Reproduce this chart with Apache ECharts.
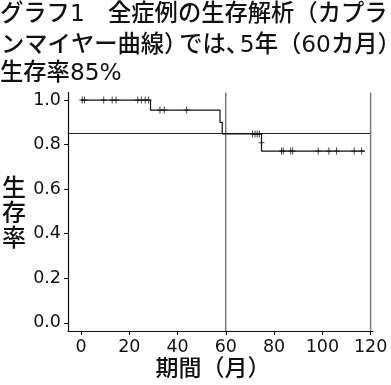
<!DOCTYPE html>
<html><head><meta charset="utf-8">
<script src="https://cdn.jsdelivr.net/npm/echarts@6/dist/echarts.min.js"></script>
<style>html,body{margin:0;padding:0;background:#fff}#c{width:391px;height:385px}</style>
</head><body><div id="c"></div>
<script>
// Kaplan-Meier step points
const stepTimes = [0, 28.8, 57.6, 58.5, 74.8, 74.8, 117.6];
const stepSurv  = [1.0, 0.955, 0.9, 0.848, 0.808, 0.771, 0.771];
// censored observations
const censorTimes = [0.5, 1.4, 9.4, 12.9, 14.5, 23.5, 25.0, 26.6, 28.0, 32.7, 34.5, 43.8, 71.1, 72.1, 73.0, 73.9, 74.8, 83.1, 83.8, 86.9, 87.7, 98.3, 102.7, 105.9, 113.2, 116.3];
const censorSurv  = [1.0, 1.0, 1.0, 1.0, 1.0, 1.0, 1.0, 1.0, 1.0, 0.955, 0.955, 0.955, 0.848, 0.848, 0.848, 0.848, 0.808, 0.771, 0.771, 0.771, 0.771, 0.771, 0.771, 0.771, 0.771, 0.771];
// reference lines
const refMonth = [60, 120];
const refSurv = 0.85;
// tick labels
const xTicks = [0, 20, 40, 60, 80, 100, 120];
const yTicks = [0, 0.2, 0.4, 0.6, 0.8, 1.0];
const titleLine1 = 'グラフ1　全症例の生存解析（カプラ';
const titleLine2Parts = ['ンマイヤー曲線）', 'では、', '5年（60カ月）'];
const titleLine3 = '生存率85%';
const xName = '期間（月）';
const yName = '生存率';

const X_MIN = -5.4, X_MAX = 121, Y_MIN = -0.037, Y_MAX = 1.034;
const TF = '"DejaVu Sans", "Noto Sans CJK JP", sans-serif';
const LAT = '"DejaVu Sans", sans-serif';
const S = 23.3; // title font size
const W = '500 ';

const chart = echarts.init(document.getElementById('c'), null, {renderer: 'canvas'});
const series = [
  {
    type: 'line', step: 'end', symbol: 'none', silent: true,
    lineStyle: {color: '#111', width: 1.2},
    data: stepTimes.map((t, i) => [t, stepSurv[i]]), z: 3
  },
  {
    type: 'scatter', silent: true,
    symbol: 'path://M2.5,0h1v3h2.5v1h-2.5v3h-1v-3h-2.5v-1h2.5z',
    symbolSize: [6, 7],
    itemStyle: {color: '#111'},
    data: censorTimes.map((t, i) => [t, censorSurv[i]]), z: 4
  },
  {
    type: 'line', symbol: 'none', silent: true,
    lineStyle: {color: '#222', width: 1},
    data: [[X_MIN, refSurv], [refMonth[1], refSurv]], z: 2
  },
  {
    type: 'line', symbol: 'none', silent: true,
    lineStyle: {color: '#333', width: 1},
    data: [[refMonth[0], Y_MIN], [refMonth[0], Y_MAX]], z: 2
  },
  {
    type: 'line', symbol: 'none', silent: true,
    lineStyle: {color: '#777', width: 1.5},
    data: [[refMonth[1], Y_MIN], [refMonth[1], Y_MAX]], z: 2
  }
];

const tStyle = t => ({text: t, font: W + S + 'px ' + TF, fill: '#111', verticalAlign: 'top'});
chart.setOption({
  animation: false,
  backgroundColor: '#fff',
  grid: {left: 68, right: 18, top: 92.5, bottom: 54, containLabel: false},
  xAxis: {
    type: 'value', min: X_MIN, max: X_MAX,
    axisLine: {onZero: false, lineStyle: {color: '#111', width: 1.2}},
    axisTick: {show: true, length: 4, customValues: xTicks, lineStyle: {color: '#111'}},
    axisLabel: {customValues: xTicks, margin: 7, fontFamily: LAT, fontSize: 17.5, color: '#111'},
    splitLine: {show: false}
  },
  yAxis: {
    type: 'value', min: Y_MIN, max: Y_MAX,
    axisLine: {show: true, onZero: false, lineStyle: {color: '#111', width: 1.2}},
    axisTick: {show: true, length: 4, customValues: yTicks, lineStyle: {color: '#111'}},
    axisLabel: {customValues: yTicks, margin: 7, fontFamily: LAT, fontSize: 17.5, color: '#111',
      formatter: v => v.toFixed(1)},
    splitLine: {show: false}
  },
  graphic: [
    {type: 'text', x: 0, y: 3, style: tStyle(titleLine1)},
    {type: 'text', x: 1, y: 34, style: tStyle(titleLine2Parts[0])},
    {type: 'text', x: 1 + 7.65 * S, y: 34, style: tStyle(titleLine2Parts[1])},
    {type: 'text', x: 1 + 10.25 * S, y: 34, style: tStyle(titleLine2Parts[2])},
    {type: 'text', x: 0, y: 62, style: tStyle(titleLine3)},
    {type: 'text', x: 213, y: 370, style: {text: xName, font: W + '23px ' + TF, fill: '#111', align: 'center', verticalAlign: 'middle'}},
    {type: 'text', x: 14, y: 215, style: {text: yName.split('').join('\n'), font: W + '24px ' + TF, lineHeight: 25, fill: '#111', align: 'center', verticalAlign: 'middle'}}
  ],
  series
});
</script></body></html>
